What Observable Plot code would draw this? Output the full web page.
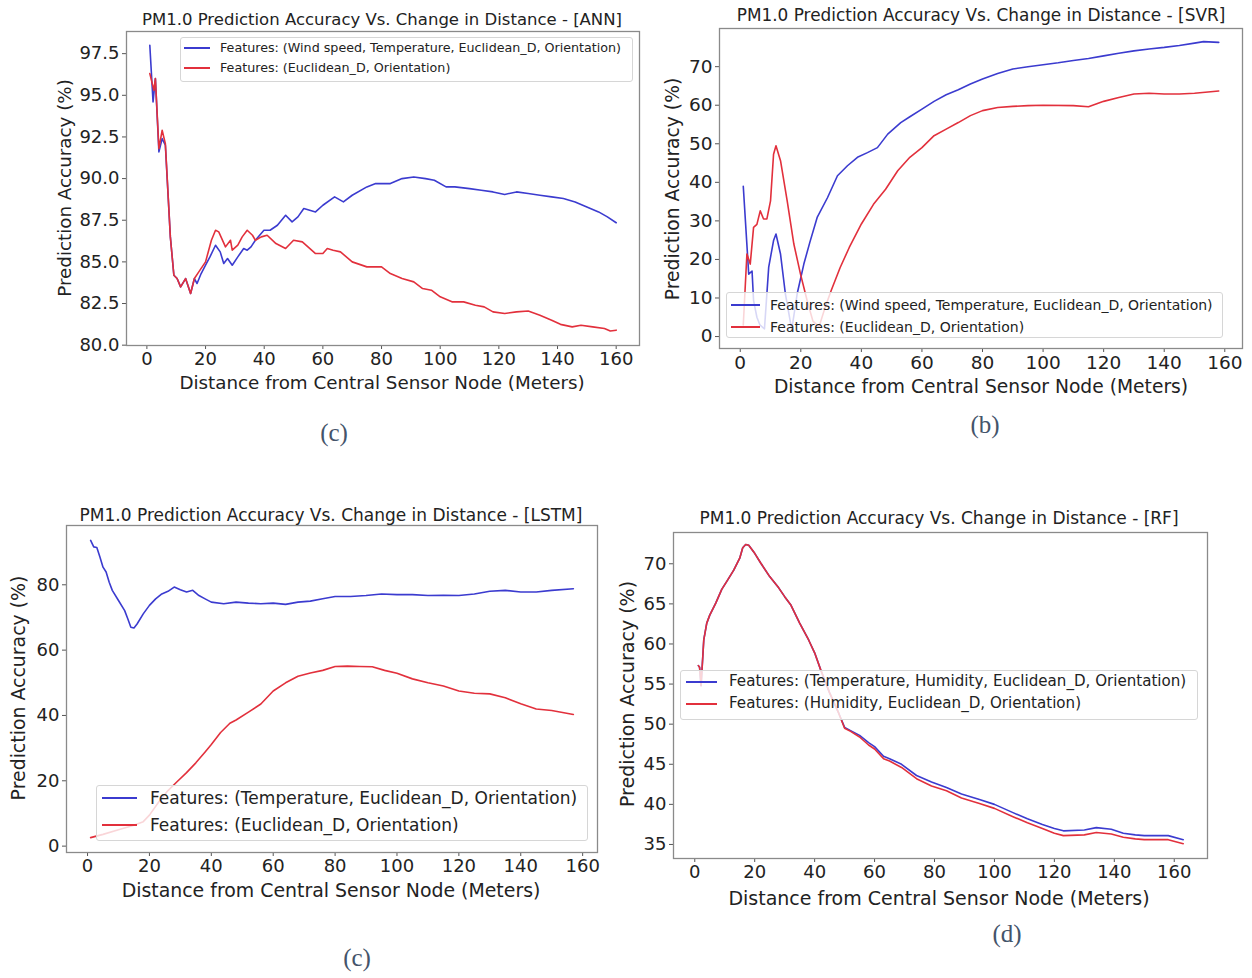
<!DOCTYPE html>
<html><head><meta charset="utf-8">
<script src="https://cdn.jsdelivr.net/npm/d3@7"></script>
<script src="https://cdn.jsdelivr.net/npm/@observablehq/plot@0.6"></script>
<style>
body{margin:0;background:#fff;}
#fig{position:relative;width:1252px;height:978px;overflow:hidden;font-family:"DejaVu Sans",sans-serif;color:#222;background:#fff;}
.t{position:absolute;white-space:nowrap;line-height:1;transform:translate(-50%,-50%);}
.yl{transform:translate(-50%,-50%) rotate(-90deg);}
.cap{font-family:"Liberation Serif","DejaVu Serif",serif;color:#44546a;}
.leg{position:absolute;box-sizing:border-box;border:1px solid #d6d6d6;border-radius:3px;background:rgba(255,255,255,0.8);}
.h{position:absolute;height:2px;}
.lt{position:absolute;white-space:nowrap;line-height:1;transform:translateY(-50%);color:#222;}
</style></head><body><div id="fig"></div>
<script>
// ---------- shared ----------
const xTicks = [0, 20, 40, 60, 80, 100, 120, 140, 160];
const titles = [
  "PM1.0 Prediction Accuracy Vs. Change in Distance - [ANN]",
  "PM1.0 Prediction Accuracy Vs. Change in Distance  - [SVR]",
  "PM1.0 Prediction Accuracy Vs. Change in Distance - [LSTM]",
  "PM1.0 Prediction Accuracy Vs. Change in Distance - [RF]"
];
const xLabel = "Distance from Central Sensor Node (Meters)";
const yLabel = "Prediction Accuracy (%)";
const captions = ["(c)", "(b)", "(c)", "(d)"];

// ---------- ANN ----------
const annTicksY = [80, 82.5, 85, 87.5, 90, 92.5, 95, 97.5];
const annLegend = ["Features: (Wind speed, Temperature, Euclidean_D, Orientation)", "Features: (Euclidean_D, Orientation)"];
const annBlueX = [1, 2.1, 2.9, 4.1, 5.2, 6.3, 8, 9.2, 10.3, 11.5, 13.2, 14.9, 16.2, 17.1, 18.5, 20, 21.5, 23.4, 25, 26.2, 27.5, 29.1, 31, 33, 34.2, 35.5, 37, 39.9, 42, 44.5, 47.3, 49.5, 51.5, 53.5, 57.5, 60, 64, 67, 70, 75, 78, 80, 83, 87, 91, 95, 98, 102, 105, 110, 114, 118, 122, 126, 130, 134, 138, 142, 146, 150, 154, 157, 160];
const annBlueY = [98.0, 94.6, 96.0, 91.6, 92.4, 92.0, 86.5, 84.2, 84.0, 83.5, 84.0, 83.1, 84.0, 83.7, 84.3, 84.8, 85.3, 86.0, 85.6, 84.9, 85.2, 84.8, 85.3, 85.8, 85.7, 85.9, 86.3, 86.9, 86.9, 87.2, 87.8, 87.4, 87.7, 88.2, 88.0, 88.4, 88.9, 88.6, 89.0, 89.5, 89.7, 89.7, 89.7, 90.0, 90.1, 90.0, 89.9, 89.5, 89.5, 89.4, 89.3, 89.2, 89.05, 89.2, 89.1, 89.0, 88.9, 88.8, 88.6, 88.3, 88.0, 87.7, 87.35];
const annRedX = [1, 2.4, 2.9, 4.1, 5.2, 6.3, 8, 9.2, 10.3, 11.5, 13.2, 14.9, 16.2, 17.7, 20, 22, 23.4, 24.5, 26.8, 28.5, 29.1, 31, 32.5, 34.2, 36, 37, 39, 41, 44, 47.3, 50, 53, 57.5, 60, 61.5, 63.5, 66, 70, 75, 80, 83, 87, 91, 94, 97, 100, 104, 108, 112, 115, 118, 122, 126, 130, 134, 138, 141, 145, 148, 152, 156, 158, 160];
const annRedY = [96.3, 95.3, 96.0, 91.8, 92.9, 92.1, 86.5, 84.2, 84.0, 83.5, 84.0, 83.1, 84.0, 84.4, 85.0, 86.3, 86.9, 86.8, 85.9, 86.3, 85.7, 86.0, 86.5, 86.9, 86.6, 86.3, 86.5, 86.6, 86.1, 85.8, 86.3, 86.2, 85.5, 85.5, 85.8, 85.7, 85.6, 85.0, 84.7, 84.7, 84.3, 84.0, 83.8, 83.4, 83.3, 82.9, 82.6, 82.6, 82.4, 82.3, 82.0, 81.9, 82.0, 82.05, 81.8, 81.5, 81.25, 81.1, 81.2, 81.1, 81.0, 80.85, 80.9];

// ---------- SVR ----------
const svrTicksY = [0, 10, 20, 30, 40, 50, 60, 70];
const svrLegend = ["Features: (Wind speed, Temperature, Euclidean_D, Orientation)", "Features: (Euclidean_D, Orientation)"];
const svrBlueX = [1, 2.8, 3.9, 4.4, 5.5, 6.5, 8, 9.4, 11, 11.8, 13.3, 14.9, 17, 18.8, 21, 23, 25.4, 28.8, 32.1, 35.4, 38.7, 42, 45.3, 48.7, 53, 56, 60, 64, 68, 72, 76, 80, 85, 90, 95, 100, 105, 110, 115, 120, 125, 130, 135, 140, 145, 150, 153, 158];
const svrBlueY = [39.0, 16.2, 17.0, 9.3, 5.0, 3.0, 2.0, 18.0, 24.9, 26.6, 21.4, 11.1, 1.8, 11.1, 18.8, 24.5, 30.9, 36.0, 41.7, 44.3, 46.5, 47.7, 49.0, 52.5, 55.5, 57.0, 59.0, 61.0, 62.7, 64.0, 65.5, 66.8, 68.2, 69.4, 70.0, 70.5, 71.0, 71.6, 72.1, 72.8, 73.5, 74.1, 74.6, 75.0, 75.5, 76.1, 76.5, 76.3];
const svrRedX = [1, 2.2, 3.3, 4.4, 5.5, 6.6, 7.7, 8.8, 10, 11, 11.8, 13.3, 15.5, 17.7, 19.9, 22.1, 24, 26, 28, 30, 33, 36, 40, 44, 48, 52, 56, 60, 64, 68, 72, 76, 80, 85, 90, 95, 100, 110, 115, 120, 125, 130, 135, 140, 145, 150, 158];
const svrRedY = [3.0, 21.4, 18.8, 28.3, 29.1, 32.6, 30.5, 30.5, 35.2, 47.3, 49.5, 45.6, 35.2, 24.0, 16.2, 9.3, 4.0, 2.5, 7.5, 11.9, 17.9, 23.1, 29.2, 34.3, 38.2, 43.0, 46.5, 49.0, 52.1, 53.8, 55.5, 57.3, 58.6, 59.4, 59.7, 59.9, 60.0, 59.9, 59.6, 61.0, 62.0, 62.9, 63.1, 62.9, 62.9, 63.1, 63.7];

// ---------- LSTM ----------
const lstmTicksY = [0, 20, 40, 60, 80];
const lstmLegend = ["Features: (Temperature, Euclidean_D, Orientation)", "Features: (Euclidean_D, Orientation)"];
const lstmBlueX = [1, 2, 3, 4, 5, 6, 7, 8, 10, 12, 13, 14, 15, 16, 18, 20, 22, 24, 26, 28, 30, 32, 34, 36, 38, 40, 44, 48, 52, 56, 60, 64, 68, 72, 76, 80, 85, 90, 95, 100, 105, 110, 115, 120, 125, 130, 135, 140, 145, 150, 157];
const lstmBlueY = [93.6, 91.6, 91.4, 88.5, 85.4, 83.9, 80.8, 78.3, 75.2, 72.1, 69.6, 67.0, 66.8, 68.0, 71.1, 73.7, 75.7, 77.2, 78.0, 79.3, 78.5, 77.8, 78.3, 76.7, 75.7, 74.7, 74.2, 74.7, 74.4, 74.2, 74.4, 74.0, 74.7, 75.0, 75.7, 76.4, 76.4, 76.7, 77.2, 77.0, 77.0, 76.7, 76.8, 76.7, 77.2, 78.0, 78.3, 77.8, 77.8, 78.3, 78.8];
const lstmRedX = [1, 5, 10, 15, 18, 20, 23, 26, 29, 32, 35, 38, 40, 43, 46, 48, 52, 56, 60, 64, 68, 72, 76, 80, 84, 88, 92, 96, 100, 105, 110, 115, 120, 125, 130, 135, 140, 145, 150, 157];
const lstmRedY = [2.6, 3.6, 5.0, 6.4, 7.5, 9.5, 13.5, 17.0, 19.8, 22.5, 25.5, 28.8, 31.1, 34.8, 37.6, 38.6, 41.0, 43.5, 47.5, 50.0, 52.0, 53.0, 53.8, 55.0, 55.1, 55.0, 54.9, 53.8, 52.9, 51.2, 50.0, 49.0, 47.5, 46.8, 46.6, 45.4, 43.6, 42.0, 41.5, 40.3];

// ---------- RF ----------
const rfTicksY = [35, 40, 45, 50, 55, 60, 65, 70];
const rfLegend = ["Features: (Temperature, Humidity, Euclidean_D, Orientation)", "Features: (Humidity, Euclidean_D, Orientation)"];
const rfBlueX = [1.2, 1.6, 2.1, 3, 4, 5, 7, 9, 11, 13, 15, 16, 17, 18, 20, 22, 25, 28, 30, 32, 35, 38, 40, 42, 45, 48, 50, 52, 55, 58, 60, 63, 65, 69, 74, 79, 84, 89, 95, 100, 106, 111, 116, 120, 123, 130, 134, 139, 143, 147, 150, 158, 163];
const rfBlueY = [57.3, 57.1, 54.8, 60.5, 62.6, 63.6, 65.1, 66.8, 68.0, 69.2, 70.7, 72.0, 72.4, 72.3, 71.3, 70.1, 68.4, 67.0, 65.9, 64.9, 62.6, 60.5, 58.9, 56.8, 53.9, 51.4, 49.6, 49.2, 48.6, 47.7, 47.2, 46.0, 45.7, 45.0, 43.6, 42.8, 42.1, 41.3, 40.6, 40.0, 39.0, 38.2, 37.5, 37.0, 36.7, 36.8, 37.1, 36.9, 36.4, 36.2, 36.1, 36.1, 35.6];
const rfRedX = [1.2, 1.6, 2.1, 3, 4, 5, 7, 9, 11, 13, 15, 16, 17, 18, 20, 22, 25, 28, 30, 32, 35, 38, 40, 42, 45, 48, 50, 52, 55, 58, 60, 63, 65, 69, 74, 79, 84, 89, 95, 100, 106, 111, 116, 120, 123, 130, 134, 139, 143, 147, 150, 158, 163];
const rfRedY = [57.3, 57.1, 54.8, 60.5, 62.6, 63.6, 65.1, 66.8, 68.0, 69.2, 70.7, 72.0, 72.4, 72.3, 71.3, 70.1, 68.4, 67.0, 65.9, 64.9, 62.6, 60.5, 58.9, 56.8, 53.9, 51.4, 49.5, 49.1, 48.4, 47.4, 46.9, 45.7, 45.4, 44.6, 43.2, 42.3, 41.7, 40.8, 40.1, 39.5, 38.5, 37.7, 37.0, 36.4, 36.1, 36.2, 36.5, 36.3, 35.9, 35.7, 35.6, 35.6, 35.1];

// ---------- drawing ----------
const BLUE = "#3b3bcf", RED = "#e2303c";
const fig = document.getElementById("fig");
const pts = (xs, ys) => xs.map((x, i) => ({x, y: ys[i]}));

function addText(txt, cls, x, y, size, extra = "") {
  const d = document.createElement("div");
  d.className = cls;
  d.textContent = txt;
  d.style.cssText = `left:${x}px;top:${y}px;font-size:${size}px;${extra}`;
  fig.appendChild(d);
}

function panel(p) {
  const svg = Plot.plot({
    width: p.w, height: p.h,
    marginLeft: p.fl - p.sx, marginTop: p.ft - p.sy,
    marginRight: p.sx + p.w - p.fr, marginBottom: p.sy + p.h - p.fb,
    style: {fontFamily: "DejaVu Sans, sans-serif", fontSize: p.tick + "px", color: "#222", background: "transparent", overflow: "visible"},
    x: {domain: p.xd, ticks: xTicks, label: null},
    y: {domain: p.yd, ticks: p.yt, label: null, tickFormat: p.yf},
    marks: [
      Plot.axisX({ticks: xTicks, tickSize: 4, tickPadding: 3, label: null, stroke: "#555"}),
      Plot.axisY({ticks: p.yt, tickSize: 4, tickPadding: 3, label: null, stroke: "#555", tickFormat: p.yf}),
      Plot.line(pts(p.bx, p.by), {x: "x", y: "y", stroke: BLUE, strokeWidth: 1.6, clip: true}),
      Plot.line(pts(p.rx, p.ry), {x: "x", y: "y", stroke: RED, strokeWidth: 1.6, clip: true}),
      Plot.frame({stroke: "#8a8a8a", strokeWidth: 1.3})
    ]
  });
  svg.style.position = "absolute";
  svg.style.left = p.sx + "px";
  svg.style.top = p.sy + "px";
  fig.appendChild(svg);

  addText(p.title, "t", p.tx, p.ty, p.tsize);
  addText(xLabel, "t", p.xlx, p.xly, p.lsize);
  addText(yLabel, "t yl", p.ylx, p.yly, p.lsize);
  addText(p.cap, "t cap", p.cx, p.cy, 25);

  const L = p.leg;
  const box = document.createElement("div");
  box.className = "leg";
  box.style.cssText = `left:${L.x}px;top:${L.y}px;width:${L.w}px;height:${L.h}px;`;
  fig.appendChild(box);
  [[BLUE, L.y1, p.legText[0]], [RED, L.y2, p.legText[1]]].forEach(([c, yy, txt]) => {
    const h = document.createElement("div");
    h.className = "h";
    h.style.cssText = `left:${L.hx}px;top:${yy - 1}px;width:${L.hw}px;background:${c};`;
    fig.appendChild(h);
    addText(txt, "lt", L.tx, yy, L.fs);
  });
}

panel({sx: 0, sy: 0, w: 660, h: 400, fl: 126, ft: 31, fr: 639, fb: 345,
  xd: [-6.95, 167.95], yd: [79.98, 98.83], yt: annTicksY, yf: d => d.toFixed(1), tick: 18,
  bx: annBlueX, by: annBlueY, rx: annRedX, ry: annRedY,
  title: titles[0], tx: 382, ty: 20, tsize: 16.5,
  xlx: 382, xly: 383, ylx: 65, yly: 188, lsize: 18.3,
  cap: captions[0], cx: 334, cy: 432,
  legText: annLegend,
  leg: {x: 180, y: 37, w: 453, h: 45, y1: 48, y2: 68, hx: 184, hw: 26, tx: 220, fs: 12.7}});

panel({sx: 660, sy: 0, w: 592, h: 400, fl: 719, ft: 28, fr: 1242, fb: 348,
  xd: [-6.85, 165.85], yd: [-3.1, 79.9], yt: svrTicksY, yf: d => d, tick: 18.5,
  bx: svrBlueX, by: svrBlueY, rx: svrRedX, ry: svrRedY,
  title: titles[1], tx: 981, ty: 15, tsize: 16.9,
  xlx: 981, xly: 387, ylx: 673, yly: 189, lsize: 18.7,
  cap: captions[1], cx: 985, cy: 424,
  legText: svrLegend,
  leg: {x: 726, y: 292, w: 497, h: 46, y1: 305, y2: 327, hx: 731, hw: 29, tx: 770, fs: 14}});

panel({sx: 0, sy: 470, w: 640, h: 420, fl: 66, ft: 525, fr: 597, fb: 852,
  xd: [-6.8, 164.8], yd: [-1.95, 98.15], yt: lstmTicksY, yf: d => d, tick: 18,
  bx: lstmBlueX, by: lstmBlueY, rx: lstmRedX, ry: lstmRedY,
  title: titles[2], tx: 331, ty: 515, tsize: 17,
  xlx: 331, xly: 890, ylx: 18, yly: 688, lsize: 18.9,
  cap: captions[2], cx: 357, cy: 957,
  legText: lstmLegend,
  leg: {x: 96, y: 785, w: 492, h: 56, y1: 798, y2: 825, hx: 102, hw: 35, tx: 150, fs: 17}});

panel({sx: 620, sy: 470, w: 632, h: 420, fl: 673, ft: 532, fr: 1207, fb: 858,
  xd: [-7.1, 171.1], yd: [33.25, 73.9], yt: rfTicksY, yf: d => d, tick: 18,
  bx: rfBlueX, by: rfBlueY, rx: rfRedX, ry: rfRedY,
  title: titles[3], tx: 939, ty: 518, tsize: 17,
  xlx: 939, xly: 898, ylx: 627, yly: 694, lsize: 19,
  cap: captions[3], cx: 1007, cy: 933,
  legText: rfLegend,
  leg: {x: 680, y: 670, w: 518, h: 50, y1: 682, y2: 704, hx: 686, hw: 31, tx: 729, fs: 15.1}});
</script></body></html>
